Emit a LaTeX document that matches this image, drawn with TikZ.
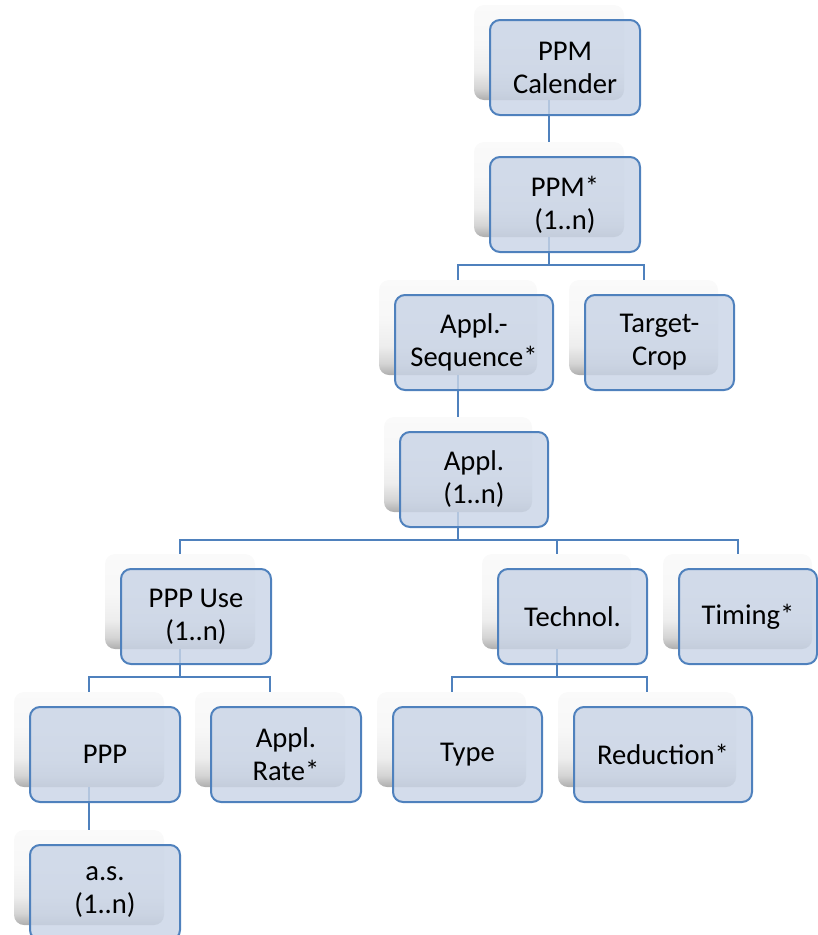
\documentclass[tikz,border=0pt]{standalone}
\usepackage{fontspec}
\setmainfont{Carlito}
\usetikzlibrary{calc}

\definecolor{linkblue}{HTML}{4F81BD}
\definecolor{cardfill}{HTML}{C9D4E6}

% soft grey-to-white card behind each item (path spans 25bp..75bp)
\pgfdeclareverticalshading{cardshade}{100bp}{%
  color(0bp)=(black!32); color(25bp)=(black!32); color(31bp)=(black!17);
  color(40bp)=(black!7); color(55bp)=(black!3); color(75bp)=(black!2);
  color(100bp)=(black!2)}

\tikzset{
  backcard/.style={rectangle, rounded corners=10pt, shading=cardshade,
    draw=none, inner sep=0pt, minimum height=95pt},
  frontcard/.style={rectangle, rounded corners=10pt, draw=linkblue,
    line width=2pt, fill=cardfill, fill opacity=0.82, text opacity=1,
    align=center, inner sep=0pt, minimum height=95pt,
    font=\fontsize{28.6}{33}\selectfont},
  link/.style={draw=linkblue, line width=2pt}
}

\begin{document}
\begin{tikzpicture}[x=1pt, y=-1pt]
\useasboundingbox (0,0) rectangle (818,935);
\clip (0,0) rectangle (818,935);

% name / left / top / back width / front width / label
\def\cardlist{%
  cal/474/5/150/150/{PPM\\Calender},
  ppm/474/142/150/150/{PPM*\\(1..n)},
  seq/379/280/158/158/{Appl.-\\Sequence*},
  crop/569/280/149/149/{Target-\\Crop},
  appl/384/417/148/148/{Appl.\\(1..n)},
  use/105/554/150/150/{PPP Use\\(1..n)},
  tech/482/554/149/149/{Technol.},
  timing/663/554/149/138/{Timing*},
  ppp/14/692/150/150/{PPP},
  rate/195/692/150/150/{Appl.\\Rate*},
  type/377/692/149/149/{Type},
  red/558/692/178/178/{Reduction*},
  as/14/830/150/150/{a.s.\\(1..n)}}

% shaded back cards
\foreach \n/\x/\y/\w/\fw/\t in \cardlist {
  \node[backcard, minimum width=\w pt] (\n b) at ({\x+\w/2},{\y+47.5}) {};
}

% connectors between the back cards
\draw[link] (calb.south) -- (ppmb.north);
\draw[link] (ppmb.south) -- ++(0,28) -| (seqb.north);
\draw[link] (ppmb.south) -- ++(0,28) -| (cropb.north);
\draw[link] (seqb.south) -- (applb.north);
\draw[link] (applb.south) -- ++(0,28) -| (useb.north);
\draw[link] (applb.south) -- ++(0,28) -| (techb.north);
\draw[link] (applb.south) -- ++(0,28) -| (timingb.north);
\draw[link] (useb.south) -- ++(0,28) -| (pppb.north);
\draw[link] (useb.south) -- ++(0,28) -| (rateb.north);
\draw[link] (techb.south) -- ++(0,28) -| (typeb.north);
\draw[link] (techb.south) -- ++(0,28) -| (redb.north);
\draw[link] (pppb.south) -- (asb.north);

% translucent front cards with the labels
\foreach \n/\x/\y/\w/\fw/\t in \cardlist {
  \node[frontcard, minimum width=\fw pt] (\n) at ({\x+16+\fw/2},{\y+62.5}) {\t};
}
\end{tikzpicture}
\end{document}
